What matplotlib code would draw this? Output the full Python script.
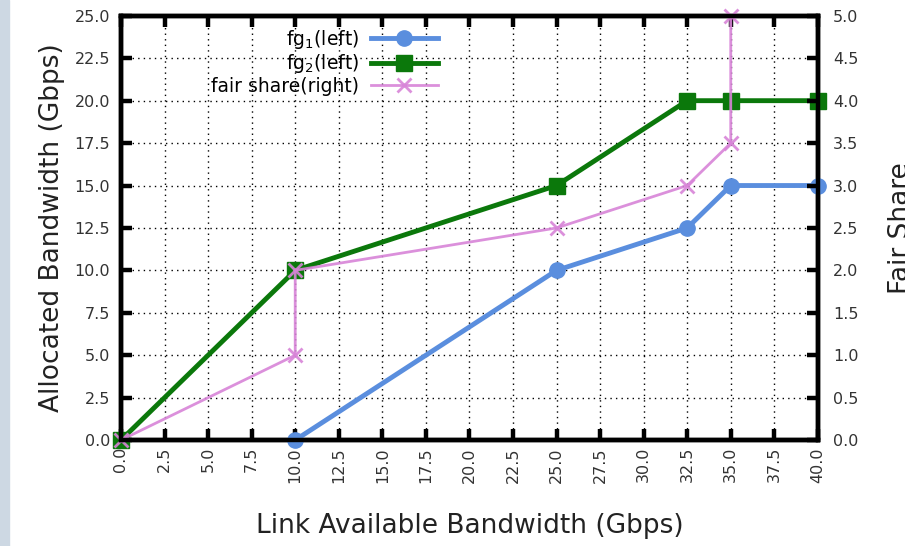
import numpy as np
import matplotlib
matplotlib.use("Agg")
import matplotlib.pyplot as plt
from matplotlib.patches import Rectangle

# data
fg1_x = [10, 25, 32.5, 35, 40]
fg1_y = [0, 10, 12.5, 15, 15]
fg2_x = [0, 10, 25, 32.5, 35, 40]
fg2_y = [0, 10, 15, 20, 20, 20]
fair_x = [0, 10, 10, 25, 32.5, 35, 35]
fair_y = [0, 1, 2, 2.5, 3, 3.5, 5]

x_ticks = np.arange(0, 40.1, 2.5)
y_ticks = np.arange(0, 25.1, 2.5)
y2_ticks = np.arange(0, 5.01, 0.5)

blue = '#5a8ede'
green = '#0b780b'
pink = '#d884d8'

fig = plt.figure(figsize=(9.05, 5.46), dpi=100)
fig.patches.append(Rectangle((0, 0), 9 / 905, 1, transform=fig.transFigure,
                             color='#cdd8e3', zorder=0))
ax = fig.add_axes([0.1337, 0.194, 0.7700, 0.777])

l1, = ax.plot(fg1_x, fg1_y, color=blue, lw=3.5, marker='o', ms=11,
              clip_on=False, zorder=3, label='fg$_1$(left)')
l2, = ax.plot(fg2_x, fg2_y, color=green, lw=3.5, marker='s', ms=11,
              clip_on=False, zorder=3, label='fg$_2$(left)')
ax.set_xlim(0, 40)
ax.set_ylim(0, 25)
ax.set_xticks(x_ticks)
ax.set_yticks(y_ticks)
ax.set_xticklabels(['%.1f' % v for v in x_ticks], rotation=90, fontsize=11.5)
ax.set_yticklabels(['%.1f' % v for v in y_ticks], fontsize=11.5)
ax.grid(True, color='black', linestyle=(0, (1, 3)), lw=1)
ax.tick_params(direction='in', length=8, width=3.2, top=True, right=False,
               colors='black', labelcolor='#333333')
ax.tick_params(axis='y', pad=8)
ax.tick_params(axis='x', pad=5)
for s in ax.spines.values():
    s.set_linewidth(3.2)
ax.set_xlabel('Link Available Bandwidth (Gbps)', fontsize=19, labelpad=22,
              color='#222222')
ax.set_ylabel('Allocated Bandwidth (Gbps)', fontsize=19, labelpad=7,
              color='#222222')

ax2 = ax.twinx()
l3, = ax2.plot(fair_x, fair_y, color=pink, lw=2, marker='x', ms=10, mew=2,
               clip_on=False, alpha=0.9, label='fair share(right)')
ax2.set_ylim(0, 5)
ax2.set_yticks(y2_ticks)
ax2.set_yticklabels(['%.1f' % v for v in y2_ticks], fontsize=11.5)
ax2.tick_params(direction='in', length=8, width=3.2, pad=11, labelcolor='#333333')
for s in ax2.spines.values():
    s.set_linewidth(3.2)
ax2.set_ylabel('Fair Share', fontsize=19, labelpad=21, color='#222222')

ax2.legend(handles=[l1, l2, l3], loc='upper right',
           bbox_to_anchor=(0.466, 0.99), frameon=False, markerfirst=False,
           fontsize=13.5, handlelength=3.6, handletextpad=0.6,
           labelspacing=0.09, borderaxespad=0)

fig.savefig('out.png', dpi=100)
